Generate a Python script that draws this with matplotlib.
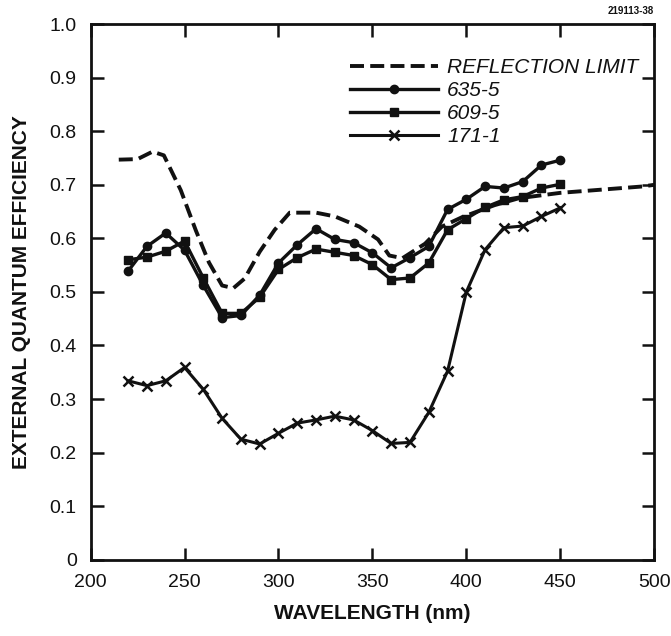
import matplotlib
matplotlib.use('Agg')
import matplotlib.pyplot as plt

plt.rcParams['font.family'] = ['Liberation Sans', 'DejaVu Sans']

# reflection limit (dashed curve)
refl_wl = [215, 225, 233, 239, 248, 256, 263, 270, 276, 282, 290, 298, 306, 320, 330,
           343, 353, 359, 366, 378, 387, 398, 415, 428, 450, 494, 500]
refl_eff = [0.747, 0.748, 0.762, 0.755, 0.69, 0.615, 0.555, 0.512, 0.507, 0.525, 0.575,
            0.616, 0.648, 0.648, 0.641, 0.622, 0.598, 0.568, 0.563, 0.59, 0.622, 0.64,
            0.662, 0.675, 0.685, 0.697, 0.70]

wl = [220, 230, 240, 250, 260, 270, 280, 290, 300, 310, 320, 330, 340, 350, 360, 370,
      380, 390, 400, 410, 420, 430, 440, 450]
s635 = [0.539, 0.585, 0.610, 0.578, 0.512, 0.452, 0.456, 0.494, 0.554, 0.588, 0.618,
        0.598, 0.592, 0.573, 0.545, 0.564, 0.585, 0.654, 0.673, 0.697, 0.694, 0.706,
        0.737, 0.746]
s609 = [0.560, 0.565, 0.576, 0.595, 0.526, 0.460, 0.460, 0.490, 0.542, 0.564, 0.580,
        0.574, 0.568, 0.551, 0.523, 0.526, 0.554, 0.616, 0.637, 0.658, 0.672, 0.678,
        0.694, 0.701]
s171 = [0.334, 0.325, 0.334, 0.359, 0.318, 0.264, 0.225, 0.216, 0.236, 0.255, 0.261,
        0.268, 0.261, 0.241, 0.217, 0.219, 0.275, 0.352, 0.500, 0.579, 0.620, 0.623,
        0.641, 0.657]

labels = ['REFLECTION LIMIT', '635-5', '609-5', '171-1']
xticks = [200, 250, 300, 350, 400, 450, 500]
yticks = [0, 0.1, 0.2, 0.3, 0.4, 0.5, 0.6, 0.7, 0.8, 0.9, 1.0]
ytick_labels = ['0', '0.1', '0.2', '0.3', '0.4', '0.5', '0.6', '0.7', '0.8', '0.9', '1.0']

ink = '#111111'
fig = plt.figure(figsize=(6.71, 6.36), dpi=100)
ax = fig.add_axes([0.135, 0.12, 0.840, 0.842])

ax.plot(refl_wl, refl_eff, color=ink, lw=2.8, ls=(0, (3.6, 1.6)), label=labels[0])
ax.plot(wl, s635, color=ink, lw=2.4, marker='o', ms=6, label=labels[1])
ax.plot(wl, s609, color=ink, lw=2.4, marker='s', ms=5.5, label=labels[2])
ax.plot(wl, s171, color=ink, lw=2.2, marker='x', ms=7.5, mew=1.8, label=labels[3])

ax.set_xlim(200, 500)
ax.set_ylim(0, 1.0)
ax.set_xticks(xticks)
ax.set_yticks(yticks)
ax.set_yticklabels(ytick_labels)
ax.tick_params(direction='in', length=9, width=1.8, top=True, right=True,
               labelsize=14, colors=ink, pad=10)
for sp in ax.spines.values():
    sp.set_linewidth(2)
    sp.set_color(ink)

ax.set_xlabel('WAVELENGTH (nm)', fontsize=15, fontweight='bold', color=ink, labelpad=10)
ax.set_ylabel('EXTERNAL QUANTUM EFFICIENCY', fontsize=15, fontweight='bold', color=ink,
              labelpad=13)

leg = ax.legend(loc='upper right', bbox_to_anchor=(1.005, 0.972), frameon=False,
                handlelength=4.2, handletextpad=0.45, labelspacing=0.2,
                prop={'style': 'italic', 'size': 15})
for t in leg.get_texts():
    t.set_color(ink)

fig.text(0.975, 0.982, '219113-38', ha='right', va='center', fontsize=7,
         fontweight='bold', color=ink)

fig.savefig('out.png', dpi=100)
